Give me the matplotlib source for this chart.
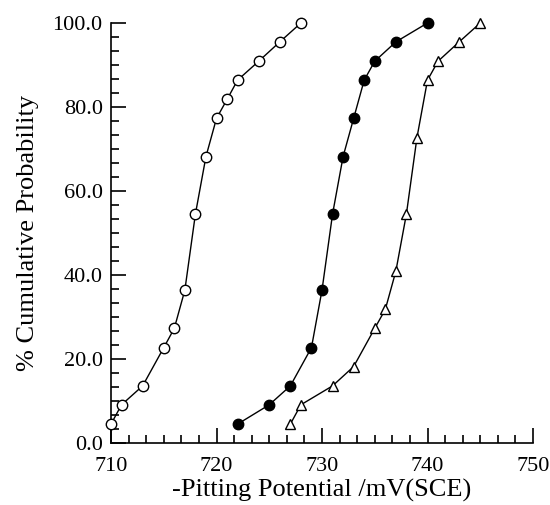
import matplotlib
matplotlib.use("Agg")
import matplotlib.pyplot as plt
from matplotlib.ticker import MultipleLocator, AutoMinorLocator, FormatStrFormatter

plt.rcParams['font.family'] = ['Liberation Serif', 'DejaVu Serif']

# Data
x_open = [710, 711, 713, 715, 716, 717, 718, 719, 720, 721, 722, 724, 726, 728]
y_open = [4.5, 9.1, 13.6, 22.7, 27.3, 36.4, 54.5, 68.2, 77.3, 81.8, 86.4, 90.9, 95.5, 100.0]

x_filled = [722, 725, 727, 729, 730, 731, 732, 733, 734, 735, 737, 740]
y_filled = [4.5, 9.1, 13.6, 22.7, 36.4, 54.5, 68.2, 77.3, 86.4, 90.9, 95.5, 100.0]

x_tri = [727, 728, 731, 733, 735, 736, 737, 738, 739, 740, 741, 743, 745]
y_tri = [4.5, 9.1, 13.6, 18.2, 27.3, 31.8, 40.9, 54.5, 72.7, 86.4, 90.9, 95.5, 100.0]

x_label = "-Pitting Potential /mV(SCE)"
y_label = "% Cumulative Probability"

fig = plt.figure(figsize=(5.5, 5.05), dpi=100)
ax = fig.add_axes([111/550, 1-443/505, (533-111)/550, (443-23)/505])

ax.plot(x_open, y_open, '-o', color='black', mfc='white', mec='black',
        ms=7.5, mew=1.0, lw=1.0, clip_on=False, zorder=3)
ax.plot(x_filled, y_filled, '-o', color='black', mfc='black', mec='black',
        ms=7.5, mew=1.0, lw=1.0, clip_on=False, zorder=3)
ax.plot(x_tri, y_tri, '-^', color='black', mfc='white', mec='black',
        ms=7.5, mew=1.0, lw=1.0, clip_on=False, zorder=3)

ax.set_xlim(710, 750)
ax.set_ylim(0, 100)
ax.xaxis.set_major_locator(MultipleLocator(10))
ax.xaxis.set_minor_locator(AutoMinorLocator(6))
ax.yaxis.set_major_locator(MultipleLocator(20))
ax.yaxis.set_minor_locator(AutoMinorLocator(6))
ax.yaxis.set_major_formatter(FormatStrFormatter('%.1f'))

for s in ['top', 'right']:
    ax.spines[s].set_visible(False)
for s in ['left', 'bottom']:
    ax.spines[s].set_linewidth(1.2)

ax.tick_params(which='major', direction='in', length=11, width=1.2, labelsize=16)
ax.tick_params(which='minor', direction='in', length=6, width=1.2)
ax.tick_params(axis='x', which='major', pad=10)
ax.tick_params(axis='y', which='major', pad=6)

ax.set_xlabel(x_label, fontsize=19, labelpad=2)
ax.set_ylabel(y_label, fontsize=19, labelpad=10)

fig.savefig("out.png", dpi=100)
